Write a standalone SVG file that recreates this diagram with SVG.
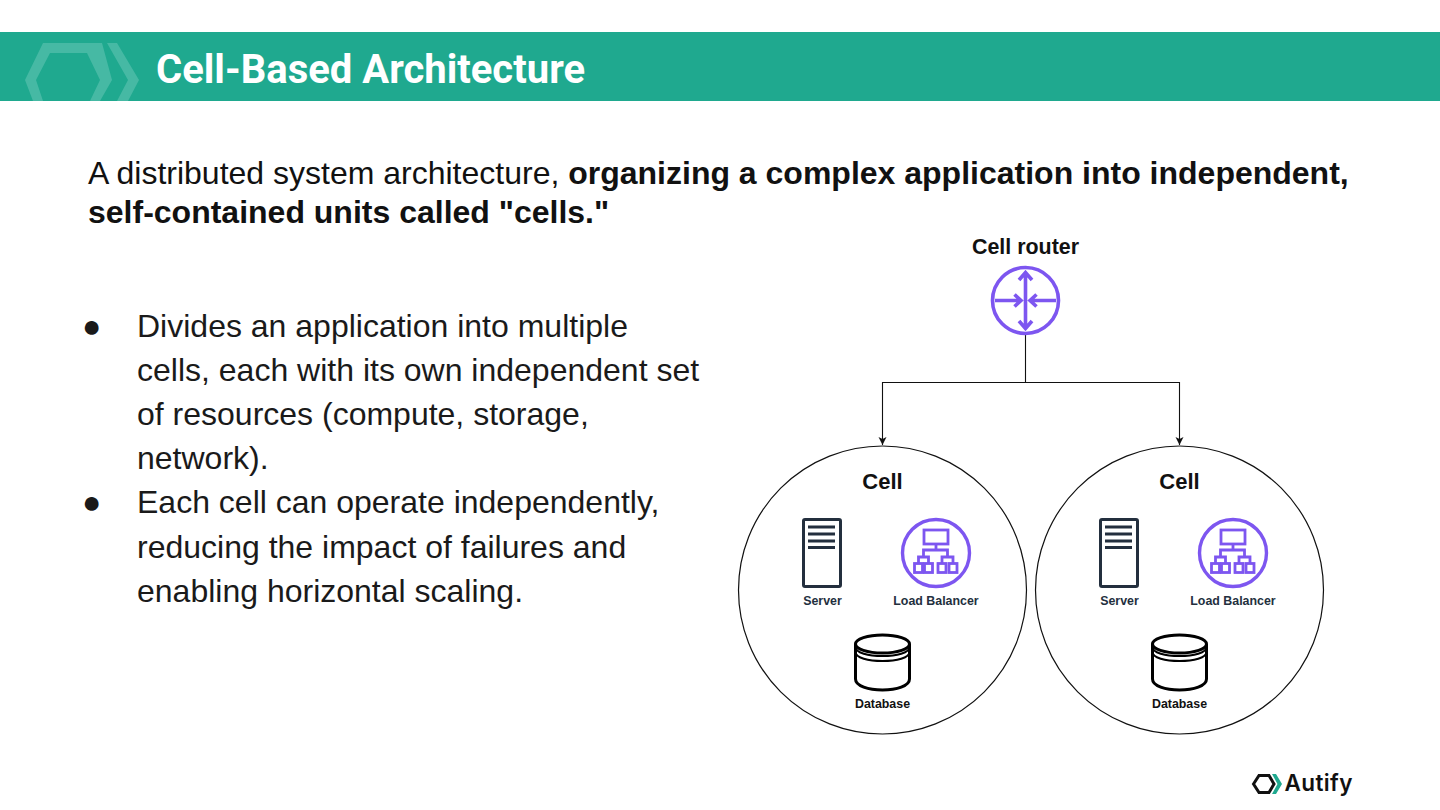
<svg xmlns="http://www.w3.org/2000/svg" width="1440" height="810" viewBox="0 0 1440 810">
<style>
text{font-family:"Liberation Sans",Arial,sans-serif}
.body{font-size:32px;fill:#1a1a1a}
.lead{font-size:32px;fill:#111}
.b{font-weight:700}
.cell{fill:#fff;stroke:#111;stroke-width:1.2}
.conn{fill:none;stroke:#111;stroke-width:1.1}
.pl{fill:none;stroke:#7d56f0;stroke-width:3.6}
.pt{fill:none;stroke:#7d56f0;stroke-width:2.8}
.h{font-size:22px;font-weight:700;text-anchor:middle;fill:#111}
.lbl{font-size:12.400px;font-weight:700;text-anchor:middle;fill:#232f3e}
</style>
<defs>
<marker id="ah" markerWidth="9" markerHeight="9" refX="8" refY="4.500" orient="auto" markerUnits="userSpaceOnUse"><path d="M0 0.500L8 4.500L0 8.500L2 4.500Z" fill="#111"/></marker>
<g id="server">
<rect x="-18.500" y="-33.500" width="37" height="67" rx="1.500" fill="#fff" stroke="#232f3e" stroke-width="3"/>
<path d="M-14-26H13M-14-19H13M-14-12H13M-14-5.500H13" stroke="#232f3e" stroke-width="3" fill="none"/>
</g>
<g id="lb">
<circle r="33.500" fill="#fff" stroke="#7d56f0" stroke-width="3.400"/>
<rect x="-12" y="-23" width="24" height="14" class="pt"/>
<path d="M0-9V-3M-12.500 4V-3H11.500V4M-17.500 10V4H-7.500V10M6 10V4H17V10" class="pt"/>
<rect x="-21.500" y="10.500" width="8" height="9" class="pt"/><rect x="-11.500" y="10.500" width="8" height="9" class="pt"/><rect x="2" y="10.500" width="8" height="9" class="pt"/><rect x="13" y="10.500" width="8" height="9" class="pt"/>
</g>
<g id="db">
<path d="M-27-18V17C-27 24-14 28 0 28S27 24 27 17V-18" fill="#fff" stroke="#000" stroke-width="3"/>
<ellipse cy="-18" rx="27" ry="9" fill="#fff" stroke="#000" stroke-width="3"/>
<path d="M-27-15C-27-9-14-6 0-6S27-9 27-15M-27-10C-27-4-14-1 0-1S27-4 27-10" fill="none" stroke="#000" stroke-width="2.200"/>
</g>
</defs>
<rect width="1440" height="810" fill="#fff"/>
<g id="banner">
<rect y="32" width="1440" height="69" fill="#1fa98f"/>
<path fill="#46b9a4" fill-rule="evenodd" d="M25 80L43 43H102L112 80L100 101H33ZM36 80L50 53H87L100 80L90 101H43Z"/>
<path fill="#46b9a4" d="M107 43H117L139 80L128 101H117L128 80Z"/>
<text x="156" y="83" font-size="40" font-weight="700" fill="#fff" style="font-family:Roboto,sans-serif">Cell-Based Architecture</text>
</g>
<g id="lead">
<text x="88" y="184" class="lead">A distributed system architecture, <tspan class="b">organizing a complex application into independent,</tspan></text>
<text x="88" y="223" class="lead b">self-contained units called "cells."</text>
</g>
<g id="bullets">
<text x="82" y="337" class="body">●</text>
<text x="137" y="337" class="body">Divides an application into multiple</text>
<text x="137" y="381" class="body">cells, each with its own independent set</text>
<text x="137" y="425" class="body">of resources (compute, storage,</text>
<text x="137" y="469" class="body">network).</text>
<text x="82" y="513" class="body">●</text>
<text x="137" y="513" class="body">Each cell can operate independently,</text>
<text x="137" y="558" class="body">reducing the impact of failures and</text>
<text x="137" y="602" class="body">enabling horizontal scaling.</text>
</g>
<g id="connectors">
<path class="conn" d="M1025.500 335V382.500H882.500V445" marker-end="url(#ah)"/>
<path class="conn" d="M1025.500 382.500H1179.500V445" marker-end="url(#ah)"/>
</g>
<g id="router">
<text x="1025.500" y="254" class="h" style="font-size:21.400px">Cell router</text>
<circle cx="1025.500" cy="300.500" r="33" fill="#fff" class="pl"/>
<path class="pl" d="M1025.500 273V328M1019 280L1025.500 272.500L1032 280M1019 321L1025.500 328.500L1032 321M995 300.500H1021M1014.500 294.500L1021 300.500L1014.500 306.500M1056 300.500H1030M1036.500 294.500L1030 300.500L1036.500 306.500"/>
</g>
<g id="cell-left">
<circle cx="882.500" cy="590" r="144" class="cell"/>
<text x="882.500" y="489" class="h">Cell</text>
<use href="#server" x="822" y="553"/>
<text x="822.500" y="605" class="lbl">Server</text>
<use href="#lb" x="936" y="553"/>
<text x="936" y="605" class="lbl">Load Balancer</text>
<use href="#db" x="882.500" y="662"/>
<text x="882.500" y="708" class="lbl" style="fill:#111">Database</text>
</g>
<g id="cell-right">
<circle cx="1179.500" cy="590" r="144" class="cell"/>
<text x="1179.500" y="489" class="h">Cell</text>
<use href="#server" x="1119" y="553"/>
<text x="1119.500" y="605" class="lbl">Server</text>
<use href="#lb" x="1233" y="553"/>
<text x="1233" y="605" class="lbl">Load Balancer</text>
<use href="#db" x="1179.500" y="662"/>
<text x="1179.500" y="708" class="lbl" style="fill:#111">Database</text>
</g>
<g id="logo">
<path d="M1253.500 784L1259 775.500H1269L1274 784L1269 792.500H1259Z" fill="none" stroke="#111" stroke-width="3"/>
<path d="M1272 774H1276L1282 784L1276 794H1272L1277.500 784Z" fill="#1fa98f"/>
<text x="1284.500" y="791" font-size="22.500" font-weight="600" letter-spacing=".4" fill="#111" style="font-family:Inter,sans-serif">Autify</text>
</g>
</svg>
